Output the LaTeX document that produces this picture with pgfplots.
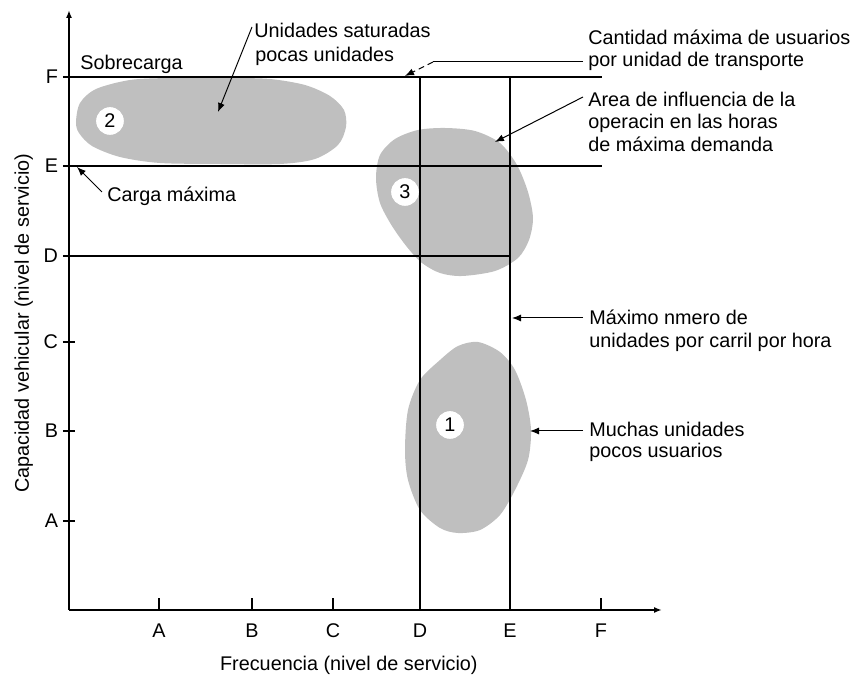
\documentclass[border=0pt]{standalone}
\usepackage{fontspec}
\setmainfont{Liberation Sans}
\usepackage{pgfplots}
\pgfplotsset{compat=1.18}
\usetikzlibrary{arrows.meta}

\begin{document}
\begin{tikzpicture}[font=\fontsize{9.9bp}{12bp}\selectfont,
  lead/.style={line width=0.5bp, -{Latex[length=4.5bp,width=3.5bp]}},
  txt/.style={anchor=base west, inner sep=0pt}]
\begin{axis}[
  x=0.5bp, y=0.5bp,
  xmin=69, xmax=662, ymin=65, ymax=665,
  axis lines=left,
  axis line style={line width=0.9bp, -{Latex[length=4bp,width=3bp]}},
  clip=false,
  xtick={159,252,333,420,510,601},
  xticklabels={A,B,C,D,E,F},
  ytick={154,244,333,419,509,598},
  yticklabels={A,B,C,D,E,F},
  xtick align=inside, ytick align=center,
  major tick length=6bp,
  tick style={line width=0.7bp, black},
  xticklabel style={anchor=base, yshift=-14bp},
  yticklabel style={anchor=east, xshift=1bp},
  xlabel={Frecuencia (nivel de servicio)},
  ylabel={Capacidad vehicular (nivel de servicio)},
  xlabel style={at={(axis description cs:0.472,-0.1)}, anchor=base, inner sep=0pt},
  ylabel style={at={(axis description cs:-0.0675,0.478)}, anchor=base, inner sep=0pt, rotate=0},
]
% zonas
\addplot[draw=none, fill=black!25, smooth cycle] coordinates {
  (76,553) (80,572) (96,586) (130,595) (170,597) (230,597) (270,596)
  (305,590) (330,579) (344,565) (346,548) (338,530) (315,516) (280,511)
  (220,511) (160,512) (120,518) (92,529) (79,542)};
\addplot[draw=none, fill=black!25, smooth cycle] coordinates {
  (445,547) (475,544) (500,532) (517,510) (528,483) (533,457) (529,435)
  (518,417) (495,404) (462,399) (440,402) (422,412) (407,428) (392,449)
  (380,472) (376,497) (380,520) (395,536) (418,545)};
\addplot[draw=none, fill=black!25, smooth cycle] coordinates {
  (478,333) (500,323) (515,305) (526,275) (531,245) (528,215) (515,185)
  (500,160) (480,145) (458,142) (440,147) (420,165) (408,195) (405,225)
  (408,265) (420,295) (440,315) (458,329)};

% niveles
\addplot[black, line width=0.7bp] coordinates {(69,598) (602,598)};
\addplot[black, line width=0.7bp] coordinates {(69,509) (602,509)};
\addplot[black, line width=0.7bp] coordinates {(69,419) (510,419)};
\addplot[black, line width=0.7bp] coordinates {(420,65) (420,598)};
\addplot[black, line width=0.7bp] coordinates {(510,65) (510,598)};

% numeros
\addplot[white, only marks, mark=*, mark size=6.7bp,
  mark options={fill=white, draw=white},
  nodes near coords, point meta=explicit symbolic,
  every node near coord/.append style={anchor=center, text=black}]
  coordinates {(110,554)[2] (405,483)[3] (450,250)[1]};

% textos
\node[txt] at (axis cs:80,605) {Sobrecarga};
\node[txt] at (axis cs:254,637) {Unidades saturadas};
\node[txt] at (axis cs:255,613) {pocas unidades};
\node[txt] at (axis cs:107,473) {Carga máxima};
\node[txt] at (axis cs:588,630) {Cantidad máxima de usuarios};
\node[txt] at (axis cs:588,608) {por unidad de transporte};
\node[txt] at (axis cs:588,568) {Area de influencia de la};
\node[txt] at (axis cs:588,546) {operacin en las horas};
\node[txt] at (axis cs:588,523) {de máxima demanda};
\node[txt] at (axis cs:589,350) {Máximo nmero de};
\node[txt] at (axis cs:589,327) {unidades por carril por hora};
\node[txt] at (axis cs:589,238) {Muchas unidades};
\node[txt] at (axis cs:589,217) {pocos usuarios};

% flechas
\draw[lead] (axis cs:252,648) -- (axis cs:218,563);
\draw[lead] (axis cs:102,483) -- (axis cs:77,508);
\draw[line width=0.5bp] (axis cs:583,613) -- (axis cs:433,613);
\draw[lead, densely dashed] (axis cs:433,613) -- (axis cs:405,599);
\draw[lead] (axis cs:583,578) -- (axis cs:495,533);
\draw[lead] (axis cs:583,357) -- (axis cs:512,357);
\draw[lead] (axis cs:583,244) -- (axis cs:530,244);

\path (axis cs:0,0) rectangle (axis cs:855,675);
\end{axis}
\end{tikzpicture}
\end{document}
